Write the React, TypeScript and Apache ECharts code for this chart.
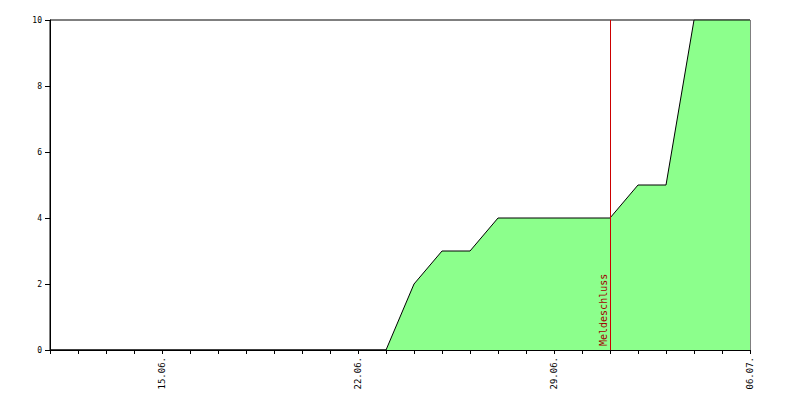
import React, { useEffect, useRef } from "react";
import * as echarts from "echarts";

const dates = [
  "11.06.", "12.06.", "13.06.", "14.06.", "15.06.", "16.06.", "17.06.",
  "18.06.", "19.06.", "20.06.", "21.06.", "22.06.", "23.06.", "24.06.",
  "25.06.", "26.06.", "27.06.", "28.06.", "29.06.", "30.06.", "01.07.",
  "02.07.", "03.07.", "04.07.", "05.07.", "06.07.",
];
const values = [0, 0, 0, 0, 0, 0, 0, 0, 0, 0, 0, 0, 0, 2, 3, 3, 4, 4, 4, 4, 4, 5, 5, 10, 10, 10];
const labeledDates = ["15.06.", "22.06.", "29.06.", "06.07."];
const deadlineDate = "01.07.";
const deadlineLabel = "Meldeschluss";

export default function App() {
  const ref = useRef<HTMLDivElement>(null);
  useEffect(() => {
    if (!ref.current) return;
    const chart = echarts.init(ref.current, null, { renderer: "svg" });
    const font = "DejaVu Sans Mono";
    chart.setOption({
      animation: false,
      backgroundColor: "#ffffff",
      grid: {
        left: 50, right: 50, top: 20, bottom: 50,
        show: true, borderColor: "#000", borderWidth: 1, backgroundColor: "transparent",
      },
      xAxis: {
        type: "value",
        min: 0,
        max: dates.length - 1,
        interval: 1,
        axisLine: { show: true, onZero: false, lineStyle: { color: "#000", width: 1 } },
        axisTick: { show: true, length: 4, lineStyle: { color: "#000" } },
        splitLine: { show: false },
        axisLabel: {
          rotate: 90,
          margin: 7,
          fontFamily: font,
          fontSize: 9,
          color: "#000",
          showMinLabel: true,
          showMaxLabel: true,
          formatter: (v: number) => {
            const d = dates[Math.round(v)];
            return labeledDates.includes(d) ? d : "";
          },
        },
      },
      yAxis: {
        type: "value",
        min: 0,
        max: 10,
        interval: 2,
        axisLine: { show: true, lineStyle: { color: "#000", width: 1 } },
        axisTick: { show: true, length: 5, lineStyle: { color: "#000" } },
        splitLine: { show: false },
        axisLabel: { fontFamily: font, fontSize: 8, color: "#000", margin: 8 },
      },
      series: [
        {
          type: "line",
          data: values.map((v, i) => [i, v]),
          symbol: "none",
          lineStyle: { color: "#000", width: 1 },
          areaStyle: { color: "#8cff8c", opacity: 1 },
          z: 2,
          markLine: {
            silent: true,
            symbol: "none",
            lineStyle: { color: "#cc0000", width: 1, type: "solid" },
            label: {
              show: true,
              position: "insideStartTop",
              formatter: deadlineLabel,
              color: "#a00000",
              fontFamily: font,
              fontSize: 10,
              distance: [4, 2],
            },
            data: [{ xAxis: dates.indexOf(deadlineDate) }],
          },
        },
      ],
    });
    return () => chart.dispose();
  }, []);
  return (
    <div
      ref={ref}
      style={{ position: "fixed", left: 0, top: 0, width: 800, height: 400 }}
    />
  );
}
